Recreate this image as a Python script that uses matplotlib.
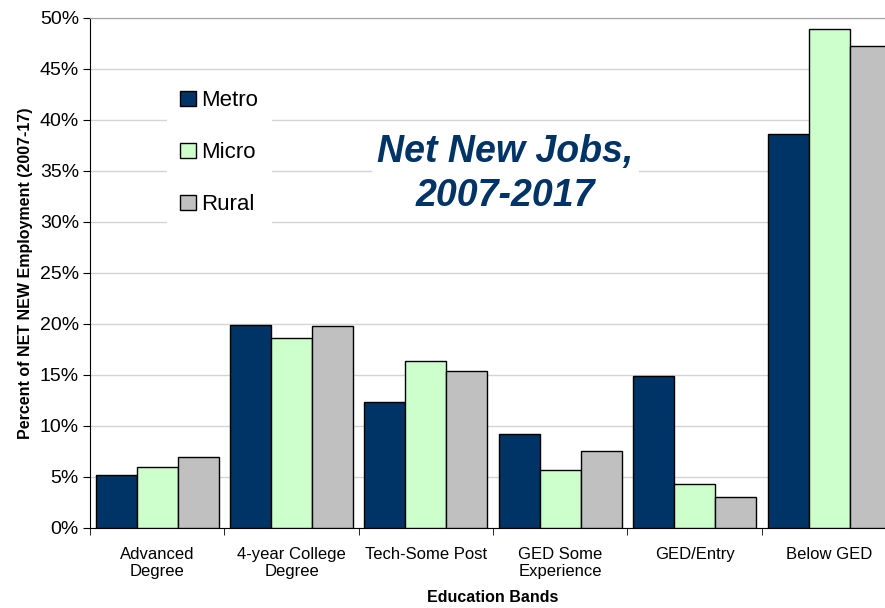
import numpy as np
import matplotlib
matplotlib.use('Agg')
import matplotlib.pyplot as plt
from matplotlib.ticker import FuncFormatter, MultipleLocator

plt.rcParams['font.family'] = ['Liberation Sans', 'DejaVu Sans']

categories = ['Advanced\nDegree', '4-year College\nDegree', 'Tech-Some Post',
              'GED Some\nExperience', 'GED/Entry', 'Below GED']
metro = [5.2, 19.9, 12.35, 9.2, 14.9, 38.6]
micro = [6.0, 18.6, 16.4, 5.7, 4.3, 48.9]
rural = [7.0, 19.8, 15.4, 7.55, 3.0, 47.25]

series = [('Metro', metro, '#003366'),
          ('Micro', micro, '#ccffcc'),
          ('Rural', rural, '#c0c0c0')]

fig = plt.figure(figsize=(8.85, 6.08), dpi=100)
ax = fig.add_axes([0.1017, 0.1316, 0.911, 0.8388])

x = np.arange(len(categories))
w = 0.305
for i, (name, vals, col) in enumerate(series):
    ax.bar(x + (i - 1) * w, vals, w, color=col, edgecolor='black',
           linewidth=1.0, label=name, zorder=3)

ax.set_xlim(-0.5, len(categories) - 0.5)
ax.set_ylim(0, 50)
ax.yaxis.set_major_locator(MultipleLocator(5))
ax.yaxis.set_major_formatter(FuncFormatter(lambda v, p: f'{v:.0f}%'))
ax.grid(axis='y', color='#d4d4d4', linewidth=1.0, zorder=0)
ax.set_axisbelow(True)

# category labels centred, ticks on the boundaries
ax.set_xticks(x)
ax.set_xticklabels(categories, fontsize=12, linespacing=1.1)
ax.tick_params(axis='x', length=0, pad=14)
ax.set_xticks(np.arange(-0.5, len(categories)), minor=True)
ax.tick_params(axis='x', which='minor', length=5, direction='out', color='black')
ax.tick_params(axis='y', labelsize=14, length=5, direction='out', pad=3)

ax.spines['right'].set_visible(False)
ax.spines['top'].set_color('#a0a0a0')

ax.set_ylabel('Percent of NET NEW Employment (2007-17)', fontsize=11.5,
              fontweight='bold', labelpad=5)
ax.set_xlabel('Education Bands', fontsize=11.5, fontweight='bold', labelpad=8)

leg = ax.legend(loc='upper left', bbox_to_anchor=(0.176, 0.892),
                bbox_transform=fig.transFigure, fontsize=16,
                handlelength=0.7, handleheight=0.7, handletextpad=0.25,
                labelspacing=1.4, frameon=True, fancybox=False,
                borderpad=0.6)
leg.get_frame().set_facecolor('white')
leg.get_frame().set_edgecolor('none')
leg.get_frame().set_alpha(1)

fig.text(0.571, 0.714, 'Net New Jobs,\n2007-2017', ha='center', va='center',
         fontsize=27, fontweight='bold', fontstyle='italic', color='#003366',
         linespacing=1.3,
         bbox=dict(facecolor='white', edgecolor='none', pad=4))

fig.savefig('out.png', dpi=100)
